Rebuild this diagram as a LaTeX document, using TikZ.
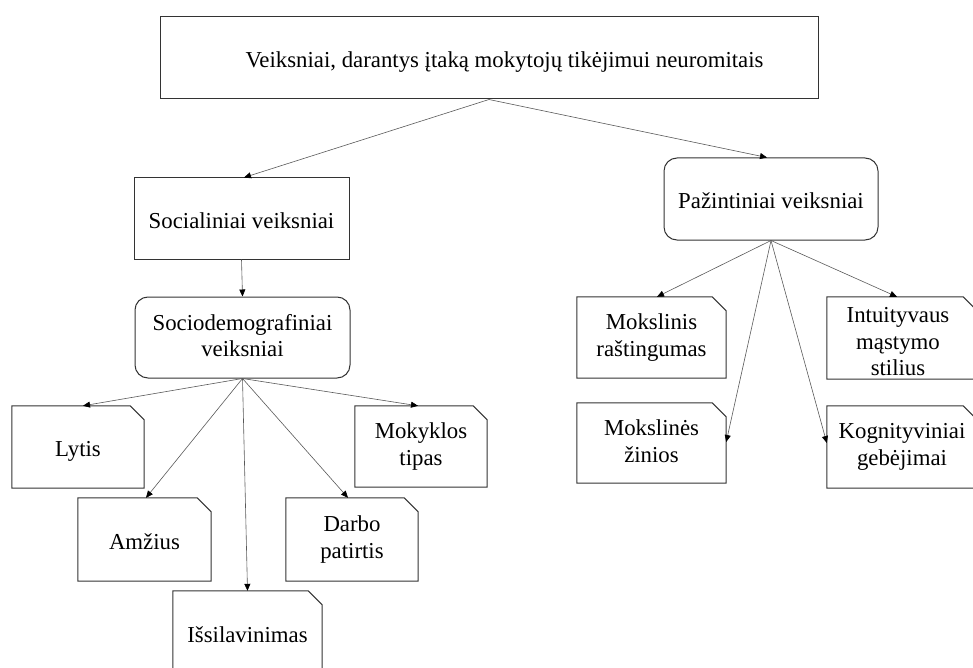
\documentclass[tikz,border=0pt]{standalone}
\usepackage{fontspec}
\setmainfont{Liberation Serif}
\usetikzlibrary{arrows.meta}
\newcommand{\boxstrut}{\rule[-4pt]{0pt}{28pt}}
\begin{document}
\begin{tikzpicture}[x=1pt,y=-1pt,
  txt/.style={align=center,inner sep=0pt,font=\fontsize{22.8}{26.5}\selectfont,
    execute at begin node=\boxstrut, execute at end node=\boxstrut},
  border/.style={draw=black!80,line width=1pt},
  box/.style={txt,rectangle,border},
  rbox/.style={box,rounded corners=13pt},
  foldbox/.style={txt,rectangle},
  conn/.style={draw=black!65,line width=0.6pt,-{Triangle[length=7pt,width=6pt,color=black]}}]
\useasboundingbox (0,0) rectangle (973,668);
\clip (0,0) rectangle (973,668);
% top level
\node[box,minimum width=658pt,minimum height=82pt] (top) at (489,58)
  {\hspace*{31pt}Veiksniai, darantys įtaką mokytojų tikėjimui neuromitais};
% left branch
\node[box,minimum width=215pt,minimum height=81pt] (soc) at (241.5,218.5) {Socialiniai veiksniai};
\node[rbox,minimum width=215pt,minimum height=81pt] (sdem) at (242.5,337.5) {Sociodemografiniai\\veiksniai};
\node[foldbox,minimum width=132pt,minimum height=82pt] (lytis) at (78,447) {Lytis};
\node[foldbox,minimum width=133pt,minimum height=83pt] (amz) at (144.5,539.5) {Amžius};
\node[foldbox,minimum width=149pt,minimum height=82pt] (iss) at (247.5,632) {Išsilavinimas};
\node[foldbox,minimum width=132pt,minimum height=83pt] (darbo) at (352,539.5) {Darbo\\patirtis};
\node[foldbox,minimum width=132pt,minimum height=81pt] (mok) at (421,446.5) {Mokyklos\\tipas};
% right branch
\node[rbox,minimum width=214pt,minimum height=82pt] (paz) at (771,199) {Pažintiniai veiksniai};
\node[foldbox,minimum width=149pt,minimum height=81pt] (moksr) at (651.5,337.5) {Mokslinis\\raštingumas};
\node[foldbox,minimum width=149pt,minimum height=80pt] (moksz) at (651.5,443) {Mokslinės\\žinios};
\node[foldbox,minimum width=150pt,minimum height=82pt] (intu) at (902,338) {};
\node[txt] (intutext) at (898,343.5) {Intuityvaus\\mąstymo\\stilius};
\node[foldbox,minimum width=150pt,minimum height=82pt] (kog) at (902,447) {Kognityviniai\\gebėjimai};
% folded-corner outlines
\foreach \n in {lytis,amz,iss,darbo,mok,moksr,moksz,intu,kog}
  \draw[border] (\n.north west) -- ([xshift=-14pt]\n.north east)
    -- ([yshift=-14pt]\n.north east) -- (\n.south east) -- (\n.south west) -- cycle;
% connectors
\draw[conn] (top.south) -- ([xshift=2.5pt]soc.north);
\draw[conn] (top.south) -- ([xshift=-4pt]paz.north);
\draw[conn] (soc.south) -- (sdem.north);
\draw[conn] (sdem.south) -- ([xshift=5pt]lytis.north);
\draw[conn] (sdem.south) -- ([xshift=1.5pt]amz.north);
\draw[conn] (sdem.south) -- (iss.north);
\draw[conn] (sdem.south) -- ([xshift=-4pt]darbo.north);
\draw[conn] (sdem.south) -- ([xshift=-3pt]mok.north);
\draw[conn] (paz.south) -- ([xshift=5.5pt]moksr.north);
\draw[conn] (paz.south) -- ([xshift=-5pt]intu.north);
\draw[conn] (paz.south) -- ([yshift=1pt]moksz.east);
\draw[conn] (paz.south) -- ([yshift=4pt]kog.west);
\end{tikzpicture}
\end{document}
